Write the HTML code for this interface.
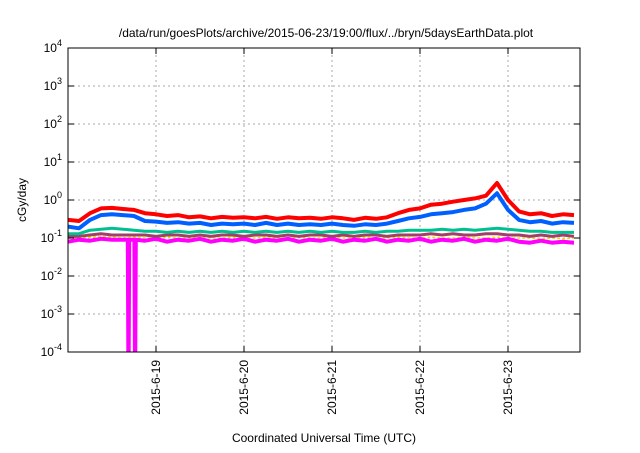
<!DOCTYPE html>
<html><head><meta charset="utf-8"><style>
body{margin:0;background:#fff;}
svg text{font-family:"Liberation Sans",sans-serif;fill:#000;}
</style></head><body>
<svg width="640" height="448" viewBox="0 0 640 448">
<script>
const hours=[0,3,6,9,12,15,18,21,24,27,30,33,36,39,42,45,48,51,54,57,60,63,66,69,72,75,78,81,84,87,90,93,96,99,102,105,108,111,114,117,120,123,126,129,132,135,138];
const red=[0.3,0.28,0.45,0.6,0.62,0.58,0.55,0.45,0.42,0.38,0.4,0.35,0.37,0.33,0.36,0.34,0.35,0.33,0.36,0.32,0.35,0.33,0.34,0.32,0.35,0.33,0.3,0.34,0.32,0.35,0.45,0.55,0.6,0.75,0.8,0.9,1.0,1.1,1.3,2.8,1.0,0.5,0.42,0.45,0.38,0.42,0.4];
const blue=[0.2,0.18,0.3,0.4,0.42,0.4,0.38,0.28,0.27,0.25,0.26,0.24,0.25,0.22,0.24,0.23,0.24,0.22,0.25,0.22,0.24,0.22,0.23,0.22,0.24,0.22,0.21,0.23,0.22,0.24,0.28,0.33,0.36,0.42,0.45,0.48,0.55,0.6,0.8,1.5,0.55,0.3,0.26,0.28,0.24,0.26,0.25];
const green=[0.13,0.13,0.16,0.17,0.18,0.17,0.16,0.15,0.15,0.14,0.15,0.14,0.15,0.14,0.15,0.14,0.15,0.14,0.15,0.14,0.15,0.14,0.15,0.14,0.15,0.14,0.14,0.15,0.14,0.15,0.15,0.16,0.16,0.16,0.17,0.16,0.17,0.16,0.17,0.18,0.17,0.16,0.15,0.15,0.14,0.14,0.14];
const purple=[0.11,0.11,0.12,0.13,0.12,0.12,0.12,0.12,0.11,0.12,0.12,0.11,0.12,0.11,0.12,0.12,0.11,0.12,0.12,0.11,0.12,0.11,0.12,0.12,0.11,0.12,0.11,0.12,0.12,0.11,0.12,0.12,0.12,0.13,0.12,0.13,0.12,0.12,0.13,0.13,0.12,0.12,0.11,0.12,0.11,0.12,0.11];
const yellow=[0.1,0.1,0.105,0.11,0.105,0.1,0.105,0.1,0.1,0.105,0.1,0.1,0.105,0.1,0.1,0.105,0.1,0.1,0.105,0.1,0.1,0.105,0.1,0.1,0.105,0.1,0.1,0.105,0.1,0.1,0.105,0.1,0.1,0.105,0.1,0.1,0.105,0.1,0.1,0.105,0.1,0.1,0.1,0.095,0.1,0.095,0.1];
const magHours=[0,3,6,9,12,15,16.3,16.5,16.7,18.1,18.3,18.5,21,24,27,30,33,36,39,42,45,48,51,54,57,60,63,66,69,72,75,78,81,84,87,90,93,96,99,102,105,108,111,114,117,120,123,126,129,132,135,138];
const magenta=[0.08,0.09,0.085,0.095,0.09,0.09,0.09,0.00001,0.09,0.09,0.00001,0.09,0.085,0.095,0.08,0.09,0.085,0.095,0.08,0.09,0.085,0.095,0.08,0.09,0.085,0.095,0.08,0.09,0.085,0.095,0.08,0.09,0.085,0.095,0.08,0.09,0.085,0.095,0.08,0.09,0.085,0.095,0.08,0.09,0.085,0.095,0.08,0.075,0.085,0.075,0.08,0.075];
const yTicks=[-4,-3,-2,-1,0,1,2,3,4];
const xTickLabels=["2015-6-19","2015-6-20","2015-6-21","2015-6-22","2015-6-23"];
const xTickHours=[24,48,72,96,120];
</script>
<text x="326" y="37" font-size="12" text-anchor="middle">/data/run/goesPlots/archive/2015-06-23/19:00/flux/../bryn/5daysEarthData.plot</text>
<g id="grid"></g>
<defs><clipPath id="clip"><rect x="68" y="48" width="512" height="304"/></clipPath></defs>
<g id="series" clip-path="url(#clip)"></g>
<rect x="68" y="48" width="512" height="304" fill="none" stroke="#000" stroke-width="1"/>
<g id="axes"></g>
<text transform="translate(26,200) rotate(-90)" font-size="12" text-anchor="middle">cGy/day</text>
<text x="324" y="442" font-size="12" text-anchor="middle">Coordinated Universal Time (UTC)</text>
<script>
const NS="http://www.w3.org/2000/svg";
const X0=68,X1=580,Y0=352,Y1=48;
function xs(h){return X0+h*(88/24);}
function ys(v){return Y0-(Math.log10(v)+4)*38;}
const grid=document.getElementById('grid'),axes=document.getElementById('axes'),ser=document.getElementById('series');
function mk(tag,at,parent){const e=document.createElementNS(NS,tag);for(const k in at)e.setAttribute(k,at[k]);parent.appendChild(e);return e;}
yTicks.forEach((p,i)=>{
 const y=Y0-(p+4)*38;
 if(p>-4&&p<4){const g=mk('line',{x1:X0,x2:X1,y1:y,y2:y,stroke:'#aaa','stroke-dasharray':'2,3'},grid);
 }
 const t1=mk('line',{x1:X0,x2:X0+6,y1:y,y2:y,stroke:'#000'},axes);
 
 const t2=mk('line',{x1:X1-6,x2:X1,y1:y,y2:y,stroke:'#000'},axes);
 
 const tx=mk('text',{x:62,y:y+4,'font-size':'12','text-anchor':'end'},axes);
 
 tx.textContent='10';const s=mk('tspan',{dy:'-6','font-size':'9'},tx);s.textContent=String(p);
});
xTickHours.forEach((h,i)=>{
 const x=xs(h);
 const g=mk('line',{x1:x,x2:x,y1:Y0,y2:Y1,stroke:'#aaa','stroke-dasharray':'2,3'},grid);
 
 const t1=mk('line',{x1:x,x2:x,y1:Y0,y2:Y0-6,stroke:'#000'},axes);
 
 const t2=mk('line',{x1:x,x2:x,y1:Y1,y2:Y1+6,stroke:'#000'},axes);
 
 const tx=mk('text',{transform:`translate(${x+4},${Y0+8}) rotate(-90)`,'font-size':'12','text-anchor':'end'},axes);
 
 tx.textContent=xTickLabels[i];
});
function line(hs,vals,color,name,w,dash){
 const d=hs.map((h,i)=>(i?'L':'M')+xs(h).toFixed(1)+','+ys(vals[i]).toFixed(1)).join('');
 const p=mk('path',{d:d,fill:'none',stroke:color,'stroke-width':w,'stroke-linejoin':'round'},ser);
 if(dash)p.setAttribute('stroke-dasharray',dash);
 
}
line(hours,yellow,'#e8e000','series-yellow',1.5,'3,2');
line(magHours,magenta,'#ff00ff','series-magenta',4);
line(hours,purple,'#a0406a','series-purple',3);
line(hours,green,'#00c090','series-green',3);
line(hours,blue,'#0060ff','series-blue',4);
line(hours,red,'#ff0000','series-red',4);
</script>
</svg>
</body></html>
